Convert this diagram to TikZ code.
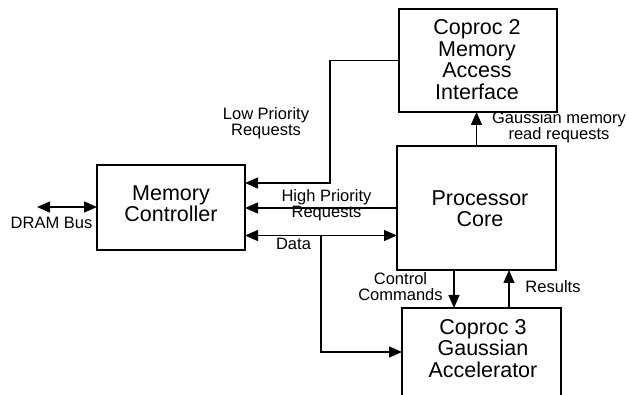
\documentclass[tikz,border=0pt]{standalone}
\usepackage{fontspec}
\setmainfont{Liberation Sans}
\usetikzlibrary{arrows.meta}
\begin{document}
\begin{tikzpicture}[x=1pt,y=-1pt,
  box/.style={draw,line width=1.2pt,inner sep=0pt,outer sep=0pt},
  big/.style={align=center,font=\fontsize{21.5}{21.5}\selectfont,inner sep=0pt},
  small/.style={align=center,font=\fontsize{16.5}{16}\selectfont,inner sep=0pt},
  conn/.style={line width=1.2pt},
  arr/.style={conn,-{Triangle[length=13pt,width=11pt]}},
  dbl/.style={conn,{Triangle[length=13pt,width=11pt]}-{Triangle[length=13pt,width=11pt]}}]
\useasboundingbox (0,0) rectangle (629,395);
% boxes
\node[box,minimum width=148pt,minimum height=85pt] (mc) at (171,207.5) {};
\node[box,minimum width=158pt,minimum height=103pt] (cp2) at (478,60.5) {};
\node[box,minimum width=159pt,minimum height=124pt] (pc) at (476.5,208) {};
\node[box,minimum width=159pt,minimum height=110pt] (cp3) at (481.5,363) {};
% box texts
\node[big] (mct) at (171,203.5) {Memory\\Controller};
\node[big] (cp2t) at (477,59.5) {Coproc 2\\Memory\\Access\\Interface};
\node[big] (pct) at (480,208.5) {Processor\\Core};
\node[big] (cp3t) at (483,348.5) {Coproc 3\\Gaussian\\Accelerator};
% coordinates
\coordinate (dram) at (37,207);
\coordinate (lp) at (330,183);
\coordinate (dl) at (0,235.5);
\coordinate (br) at (321,235.5);
\coordinate (brd) at (321,352);
\coordinate (cc) at (454,0);
\coordinate (rs) at (509,0);
% connectors
\draw[dbl] (dram) -- (mc.west |- dram);
\draw[arr] (cp2.west) -| (lp) -- (mc.east |- lp);
\draw[arr] (pc.west) -- (mc.east |- pc.west);
\draw[dbl] (mc.east |- dl) -- (pc.west |- dl);
\draw[arr] (br) -- (brd) -- (cp3.west |- brd);
\draw[arr] (pc.north) -- (pc.north |- cp2.south);
\draw[arr] (pc.south -| cc) -- (cp3.north -| cc);
\draw[arr] (cp3.north -| rs) -- (pc.south -| rs);
% labels
\node[small] (l1) at (51.5,223) {DRAM Bus};
\node[small] (l2) at (266,123) {Low Priority\\Requests};
\node[small] (l3) at (326.5,205.5) {High Priority\\Requests};
\node[small] (l4) at (293.5,244) {Data};
\node[small] (l5) at (559,127) {Gaussian memory\\read requests};
\node[small] (l6) at (400.5,287) {Control\\Commands};
\node[small] (l7) at (553,286.7) {Results};
\end{tikzpicture}
\end{document}
